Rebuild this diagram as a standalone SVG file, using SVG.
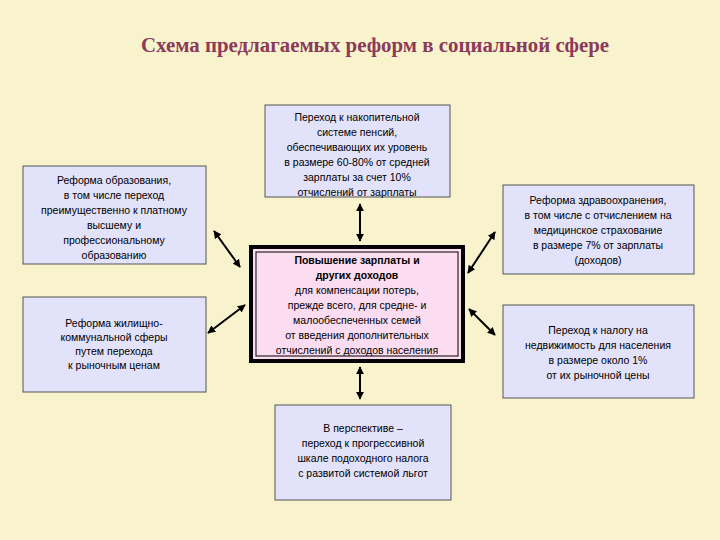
<svg xmlns="http://www.w3.org/2000/svg" width="720" height="540" viewBox="0 0 720 540">
<style>
.b{fill:#e2e2fa;stroke:#555;stroke-width:1}
.t{font-family:"Liberation Sans",Arial,sans-serif;font-size:10.5px;fill:#000;text-anchor:middle}
.c{stroke:#000;stroke-width:2;fill:none;marker-start:url(#a);marker-end:url(#a)}
</style>
<defs><marker id="a" viewBox="0 0 10 10" refX="9" refY="5" markerWidth="4" markerHeight="4" orient="auto-start-reverse"><path d="M0,0L10,5L0,10z" fill="#000"/></marker></defs>
<rect width="720" height="540" fill="#f8f3cc"/>
<text x="375" y="52" font-family="Liberation Serif,serif" font-weight="bold" font-size="20.5" fill="#8b3a5a" text-anchor="middle" textLength="468" lengthAdjust="spacingAndGlyphs">Схема предлагаемых реформ в социальной сфере</text>
<g id="top"><rect class="b" x="265" y="105" width="185" height="92"/>
<text class="t" y="121"><tspan x="357">Переход к накопительной</tspan><tspan x="357" dy="15">системе пенсий,</tspan><tspan x="357" dy="15">обеспечивающих их уровень</tspan><tspan x="357" dy="15">в размере 60-80% от средней</tspan><tspan x="357" dy="15">зарплаты за счет 10%</tspan><tspan x="357" dy="15">отчислений от зарплаты</tspan></text></g>
<g id="left1"><rect class="b" x="23" y="166" width="183" height="98"/>
<text class="t" y="184"><tspan x="114">Реформа образования,</tspan><tspan x="114" dy="15">в том числе переход</tspan><tspan x="114" dy="15">преимущественно к платному</tspan><tspan x="114" dy="15">высшему и</tspan><tspan x="114" dy="15">профессиональному</tspan><tspan x="114" dy="15">образованию</tspan></text></g>
<g id="left2"><rect class="b" x="23" y="297" width="183" height="95"/>
<text class="t" y="327"><tspan x="114">Реформа жилищно-</tspan><tspan x="114" dy="14">коммунальной сферы</tspan><tspan x="114" dy="14">путем перехода</tspan><tspan x="114" dy="14">к рыночным ценам</tspan></text></g>
<g id="right1"><rect class="b" x="503" y="185" width="191" height="89"/>
<text class="t" y="204"><tspan x="598">Реформа здравоохранения,</tspan><tspan x="598" dy="15">в том числе с отчислением на</tspan><tspan x="598" dy="15">медицинское страхование</tspan><tspan x="598" dy="15">в размере 7% от зарплаты</tspan><tspan x="598" dy="15">(доходов)</tspan></text></g>
<g id="right2"><rect class="b" x="503" y="305" width="191" height="93"/>
<text class="t" y="334"><tspan x="598">Переход к налогу на</tspan><tspan x="598" dy="15">недвижимость для населения</tspan><tspan x="598" dy="15">в размере около 1%</tspan><tspan x="598" dy="15">от их рыночной цены</tspan></text></g>
<g id="bottom"><rect class="b" x="275" y="405" width="176" height="95"/>
<text class="t" y="432"><tspan x="363">В перспективе –</tspan><tspan x="363" dy="15">переход к прогрессивной</tspan><tspan x="363" dy="15">шкале подоходного налога</tspan><tspan x="363" dy="15">с развитой системой льгот</tspan></text></g>
<g id="center"><rect x="251" y="247" width="212" height="114" fill="#fbdcf0" stroke="#000" stroke-width="4"/>
<rect x="256" y="252" width="202" height="104" fill="none" stroke="#000" stroke-width="1"/>
<text class="t" y="264"><tspan x="357" font-weight="bold">Повышение зарплаты и</tspan><tspan x="357" dy="15" font-weight="bold">других доходов</tspan><tspan x="357" dy="15">для компенсации потерь,</tspan><tspan x="357" dy="15">прежде всего, для средне- и</tspan><tspan x="357" dy="15">малообеспеченных семей</tspan><tspan x="357" dy="15">от введения дополнительных</tspan><tspan x="357" dy="15">отчислений с доходов населения</tspan></text></g>
<g id="connectors">
<line class="c" x1="360" y1="204" x2="360" y2="241"/>
<line class="c" x1="360" y1="367" x2="360" y2="399"/>
<line class="c" x1="214" y1="231" x2="240" y2="267"/>
<line class="c" x1="208" y1="333" x2="245" y2="305"/>
<line class="c" x1="495" y1="232" x2="468" y2="273"/>
<line class="c" x1="469" y1="309" x2="495" y2="335"/>
</g>
</svg>
